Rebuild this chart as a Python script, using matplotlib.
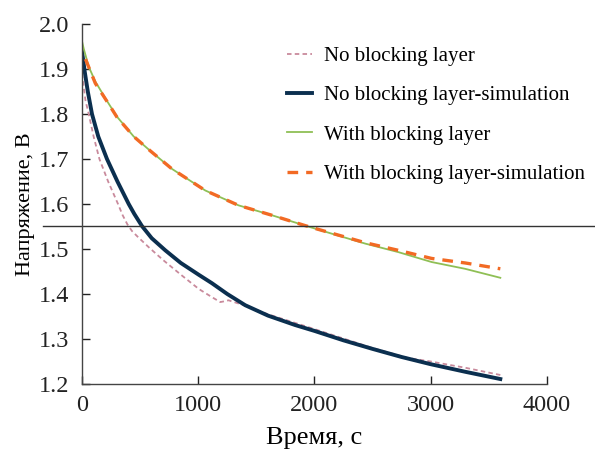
import numpy as np
import matplotlib.pyplot as plt

plt.rcParams['font.family'] = ['Liberation Serif', 'DejaVu Serif']

# No blocking layer (experiment)
t_exp = [0, 15, 30, 58, 100, 150, 225, 310, 350, 390, 430, 480, 574, 700, 860,
         1006, 1118, 1190, 1230, 1261, 1333, 1405, 1600, 2000, 2500, 2800, 3000,
         3300, 3600]
v_exp = [1.89, 1.86, 1.83, 1.80, 1.75, 1.70, 1.65, 1.60, 1.575, 1.555, 1.54,
         1.527, 1.504, 1.475, 1.441, 1.411, 1.393, 1.382, 1.384, 1.386, 1.380,
         1.374, 1.355, 1.322, 1.280, 1.258, 1.250, 1.236, 1.220]

# No blocking layer - simulation
t_sim = [0, 23, 50, 86, 140, 215, 305, 402, 450, 516, 600, 717, 850,
         1003, 1118, 1250, 1405, 1600, 1834, 2000, 2250, 2500, 2750, 3000, 3300,
         3600]
v_sim = [1.94, 1.895, 1.85, 1.80, 1.75, 1.70, 1.65, 1.60, 1.578, 1.551,
         1.524, 1.497, 1.469, 1.443, 1.424, 1.40, 1.375, 1.352,
         1.331, 1.318, 1.297, 1.278, 1.26, 1.244, 1.227, 1.211]

# With blocking layer (experiment)
t_bl = [0, 15, 58, 115, 215, 301, 445, 588, 774, 1061, 1347, 1634, 1920, 2150,
        2437, 2723, 3009, 3296, 3600]
v_bl = [1.962, 1.945, 1.905, 1.872, 1.829, 1.794, 1.75, 1.718, 1.678, 1.630, 1.597,
        1.575, 1.552, 1.534, 1.512, 1.493, 1.471, 1.456, 1.436]

# With blocking layer - simulation
t_bl_sim = [30, 115, 215, 301, 445, 588, 774, 1061, 1347, 1634, 1920, 2150, 2437,
            2723, 3009, 3296, 3600]
v_bl_sim = [1.922, 1.868, 1.828, 1.793, 1.75, 1.718, 1.678, 1.630, 1.597, 1.575,
            1.552, 1.535, 1.514, 1.497, 1.479, 1.469, 1.456]

x_ticks = [0, 1000, 2000, 3000, 4000]
y_ticks = [1.2, 1.3, 1.4, 1.5, 1.6, 1.7, 1.8, 1.9, 2.0]

fig = plt.figure(figsize=(5.95, 4.51), dpi=100)
ax = fig.add_axes([0.1378, 0.1486, 0.7812, 0.7982])

ax.plot(t_exp, v_exp, color='#c98a9c', lw=1.3, dashes=(2.5, 1.8),
        label='No blocking layer')
ax.plot(t_sim, v_sim, color='#0b2f4f', lw=2.8, label='No blocking layer-simulation')
ax.plot(t_bl, v_bl, color='#8fbf55', lw=1.3, label='With blocking layer')
ax.plot(t_bl_sim, v_bl_sim, color='#f26a24', lw=2.4, dashes=(3.2, 2.4),
        label='With blocking layer-simulation')

ax.axhline(1.55, xmin=-0.084, xmax=1.11, color='#333333', lw=1.0, clip_on=False)

ax.set_xlim(0, 4000)
ax.set_ylim(1.2, 2.0)
ax.set_xticks(x_ticks)
ax.set_yticks(y_ticks)
ax.set_yticklabels(['%.1f' % v for v in y_ticks])
ax.tick_params(direction='in', length=6, width=1, labelsize=17.5, colors='#222222')
ax.tick_params(axis='x', pad=8)
ax.tick_params(axis='y', pad=9)
ax.spines['top'].set_visible(False)
ax.spines['right'].set_visible(False)
for s in ['left', 'bottom']:
    ax.spines[s].set_color('#444444')
    ax.spines[s].set_linewidth(1)

ax.set_xlabel('Время, с', fontsize=19, labelpad=8)
ax.set_ylabel('Напряжение, В', fontsize=16, labelpad=3)

ax.legend(loc='upper left', bbox_to_anchor=(0.40, 0.99), frameon=False,
          fontsize=15, handlelength=1.2, handletextpad=0.6, labelspacing=0.95)

fig.savefig('out.png', dpi=100)
